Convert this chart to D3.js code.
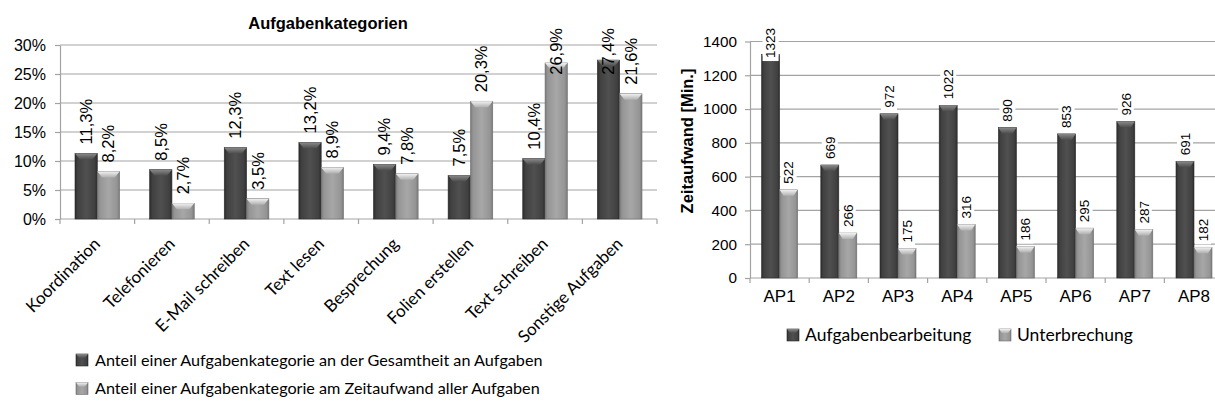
<!DOCTYPE html>
<html><head><meta charset="utf-8">
<script src="https://cdn.jsdelivr.net/npm/d3@7"></script>
<style>
html,body{margin:0;padding:0;background:#fff;}
svg{display:block;}
</style></head>
<body>
<svg id="c" width="1215" height="406"></svg>
<script>
// ---------- DATA ----------
const leftCategories = ["Koordination","Telefonieren","E-Mail schreiben","Text lesen","Besprechung","Folien erstellen","Text schreiben","Sonstige Aufgaben"];
const anteilGesamtheit = [11.3, 8.5, 12.3, 13.2, 9.4, 7.5, 10.4, 27.4];
const anteilZeitaufwand = [8.2, 2.7, 3.5, 8.9, 7.8, 20.3, 26.9, 21.6];
const leftTicks = [0, 5, 10, 15, 20, 25, 30];
const leftSeriesNames = ["Anteil einer Aufgabenkategorie an der Gesamtheit an Aufgaben", "Anteil einer Aufgabenkategorie am Zeitaufwand aller Aufgaben"];
const leftTitle = "Aufgabenkategorien";

const rightCategories = ["AP1","AP2","AP3","AP4","AP5","AP6","AP7","AP8"];
const aufgabenbearbeitung = [1323, 669, 972, 1022, 890, 853, 926, 691];
const unterbrechung = [522, 266, 175, 316, 186, 295, 287, 182];
const rightTicks = [0, 200, 400, 600, 800, 1000, 1200, 1400];
const rightSeriesNames = ["Aufgabenbearbeitung", "Unterbrechung"];
const rightAxisTitle = "Zeitaufwand [Min.]";

// ---------- SETUP ----------
const svg = d3.select("#c");
svg.append("rect").attr("width",1215).attr("height",406).attr("fill","#fff");
const defs = svg.append("defs");
function hGrad(id, stops){
  const g = defs.append("linearGradient").attr("id",id).attr("x1","0").attr("x2","1").attr("y1","0").attr("y2","0");
  stops.forEach(s=>g.append("stop").attr("offset",s[0]).attr("stop-color",s[1]));
}
function vGrad(id, stops){
  const g = defs.append("linearGradient").attr("id",id).attr("x1","0").attr("x2","0").attr("y1","0").attr("y2","1");
  stops.forEach(s=>g.append("stop").attr("offset",s[0]).attr("stop-color",s[1]));
}
hGrad("gDark", [[0,"#2c2c2c"],[0.12,"#404040"],[0.5,"#505050"],[0.88,"#404040"],[1,"#2c2c2c"]]);
hGrad("gLight",[[0,"#7a7a7a"],[0.12,"#959595"],[0.5,"#a7a7a7"],[0.88,"#959595"],[1,"#7a7a7a"]]);
vGrad("bDark", [[0,"#8a8a8a"],[1,"#4c4c4c"]]);
vGrad("bLight",[[0,"#f2f2f2"],[1,"#b0b0b0"]]);
const styles = [{body:"url(#gDark)", bevel:"url(#bDark)", stroke:"#2a2a2a"},{body:"url(#gLight)", bevel:"url(#bLight)", stroke:"#6e6e6e"}];

const gridColor = "#a3a3a3";
const axisFont = "'Liberation Sans', Arial, sans-serif";
const labelFont = "Lato, 'Open Sans', sans-serif";

function drawBar(g, x, w, yTop, yBase, st){
  g.append("rect").attr("x",x).attr("y",yTop).attr("width",w).attr("height",Math.max(0,yBase-yTop))
    .attr("fill",st.body).attr("stroke",st.stroke).attr("stroke-width",0.6);
  const bh = Math.min(6, yBase-yTop);
  g.append("path").attr("d",`M${x},${yTop}L${x+w},${yTop}L${x+w*0.78},${yTop+bh}L${x+w*0.22},${yTop+bh}Z`)
    .attr("fill",st.bevel);
}

function drawLegendSwatch(g, x, y, s, st){
  g.append("rect").attr("x",x).attr("y",y).attr("width",s).attr("height",s).attr("fill",st.body).attr("stroke",st.stroke).attr("stroke-width",0.6);
  g.append("path").attr("d",`M${x},${y}L${x+s},${y}L${x+s*0.75},${y+4}L${x+s*0.25},${y+4}Z`).attr("fill",st.bevel);
}

// ---------- LEFT CHART ----------
(function(){
  const g = svg.append("g");
  const x = d3.scaleBand().domain(leftCategories).range([60, 657]).padding(0);
  const bw = x.bandwidth();
  const x1 = d3.scaleBand().domain([0,1]).range([15, bw-15]).padding(0);
  const y = d3.scaleLinear().domain([0,30]).range([219, 45]);

  g.append("g").selectAll("line").data(leftTicks.filter(t=>t>0)).join("line")
    .attr("x1",60).attr("x2",657).attr("y1",d=>y(d)).attr("y2",d=>y(d))
    .attr("stroke",gridColor).attr("stroke-width",1.2);

  const ya = g.append("g").attr("transform","translate(60,0)")
    .call(d3.axisLeft(y).tickValues(leftTicks).tickFormat(d=>d+"%").tickSize(5).tickSizeOuter(0).tickPadding(9));
  ya.selectAll("path,line").attr("stroke",gridColor).attr("stroke-width",1.2);
  ya.selectAll("text").attr("font-family",axisFont).attr("font-size",16).attr("fill","#000");

  g.append("line").attr("x1",60).attr("x2",657).attr("y1",y(0)).attr("y2",y(0)).attr("stroke",gridColor).attr("stroke-width",1.2);
  const bounds = leftCategories.map(c=>x(c)).concat([x.range()[1]]);
  g.append("g").selectAll("line").data(bounds).join("line")
    .attr("x1",d=>d).attr("x2",d=>d).attr("y1",y(0)).attr("y2",y(0)+5).attr("stroke",gridColor).attr("stroke-width",1.2);

  const series = [anteilGesamtheit, anteilZeitaufwand];
  series.forEach((vals, si)=>{
    vals.forEach((v,i)=>{
      drawBar(g, x(leftCategories[i]) + x1(si), x1.bandwidth(), y(v), y(0), styles[si]);
    });
  });
  series.forEach((vals, si)=>{
    vals.forEach((v,i)=>{
      const cx = x(leftCategories[i]) + x1(si) + x1.bandwidth()/2;
      const lg = g.append("g");
      const t = lg.append("text").attr("font-family",axisFont).attr("font-size",16.5).attr("fill","#000")
        .attr("dy","0.35em").text(d3.format(".1f")(v).replace(".",",")+"%");
      const len = t.node().getComputedTextLength();
      let start = y(v) - 9;
      if (start - len < 28) start = 28 + len;
      lg.attr("transform",`translate(${cx},${start}) rotate(-90)`);
    });
  });

  leftCategories.forEach(c=>{
    const ax = x(c) + bw/2 + 4, ay = y(0) + 26;
    g.append("text").attr("font-family",labelFont).attr("font-size",17).attr("fill","#000")
      .attr("text-anchor","end")
      .attr("transform",`translate(${ax},${ay}) rotate(-45)`).text(c);
  });

  g.append("text").attr("x",328).attr("y",29).attr("text-anchor","middle")
    .attr("font-family",axisFont).attr("font-weight","bold").attr("font-size",16.5).text(leftTitle);

  leftSeriesNames.forEach((n,i)=>{
    const ly = 360 + i*28.5;
    drawLegendSwatch(g, 76, ly-6, 12, styles[i]);
    g.append("text").attr("x",95).attr("y",ly).attr("dy","0.35em").attr("font-family",labelFont)
      .attr("font-size",16.2).attr("fill","#000").text(n);
  });
})();

// ---------- RIGHT CHART ----------
(function(){
  const g = svg.append("g");
  const step = 59.2;
  const x = d3.scaleBand().domain(rightCategories).range([750, 750 + step*rightCategories.length]).padding(0);
  const bw = x.bandwidth();
  const x1 = d3.scaleBand().domain([0,1]).range([11.6, bw-11.6]).padding(0);
  const y = d3.scaleLinear().domain([0,1400]).range([278, 41.5]);

  g.append("g").selectAll("line").data(rightTicks.filter(t=>t>0)).join("line")
    .attr("x1",750).attr("x2",1215).attr("y1",d=>y(d)).attr("y2",d=>y(d))
    .attr("stroke",gridColor).attr("stroke-width",1.2);

  const ya = g.append("g").attr("transform","translate(750,0)")
    .call(d3.axisLeft(y).tickValues(rightTicks).tickFormat(d3.format("d")).tickSize(5).tickSizeOuter(0).tickPadding(8));
  ya.selectAll("path,line").attr("stroke",gridColor).attr("stroke-width",1.2);
  ya.selectAll("text").attr("font-family",axisFont).attr("font-size",15.3).attr("fill","#000");

  g.append("line").attr("x1",750).attr("x2",1215).attr("y1",y(0)).attr("y2",y(0)).attr("stroke",gridColor).attr("stroke-width",1.2);
  const bounds = rightCategories.map(c=>x(c));
  g.append("g").selectAll("line").data(bounds).join("line")
    .attr("x1",d=>d).attr("x2",d=>d).attr("y1",y(0)).attr("y2",y(0)+5).attr("stroke",gridColor).attr("stroke-width",1.2);

  const series = [aufgabenbearbeitung, unterbrechung];
  series.forEach((vals, si)=>{
    vals.forEach((v,i)=>{
      drawBar(g, x(rightCategories[i]) + x1(si), x1.bandwidth(), y(v), y(0), styles[si]);
    });
  });
  series.forEach((vals, si)=>{
    vals.forEach((v,i)=>{
      const cx = x(rightCategories[i]) + x1(si) + x1.bandwidth()/2;
      const lg = g.append("g");
      const bg = lg.append("rect").attr("fill","#fff");
      const t = lg.append("text").attr("font-family",axisFont).attr("font-size",13.5).attr("fill","#000")
        .attr("dy","0.35em").text(String(v));
      const len = t.node().getComputedTextLength();
      bg.attr("x",-3).attr("y",-8).attr("width",len+6).attr("height",16);
      let start = y(v) - 6;
      if (start - len < 28) start = 28 + len;
      lg.attr("transform",`translate(${cx},${start}) rotate(-90)`);
    });
  });

  rightCategories.forEach(c=>{
    g.append("text").attr("x",x(c)+bw/2).attr("y",302).attr("text-anchor","middle")
      .attr("font-family",axisFont).attr("font-size",17).attr("fill","#000").text(c);
  });

  g.append("text").attr("transform","translate(693,141) rotate(-90)").attr("text-anchor","middle")
    .attr("font-family",axisFont).attr("font-weight","bold").attr("font-size",16.5).text(rightAxisTitle);

  const lx = [787, 999];
  rightSeriesNames.forEach((n,i)=>{
    drawLegendSwatch(g, lx[i], 329, 12, styles[i]);
    g.append("text").attr("x",lx[i]+18).attr("y",335).attr("dy","0.35em").attr("font-family",labelFont)
      .attr("font-size",17.5).attr("fill","#000").text(n);
  });
})();
</script>
</body></html>
